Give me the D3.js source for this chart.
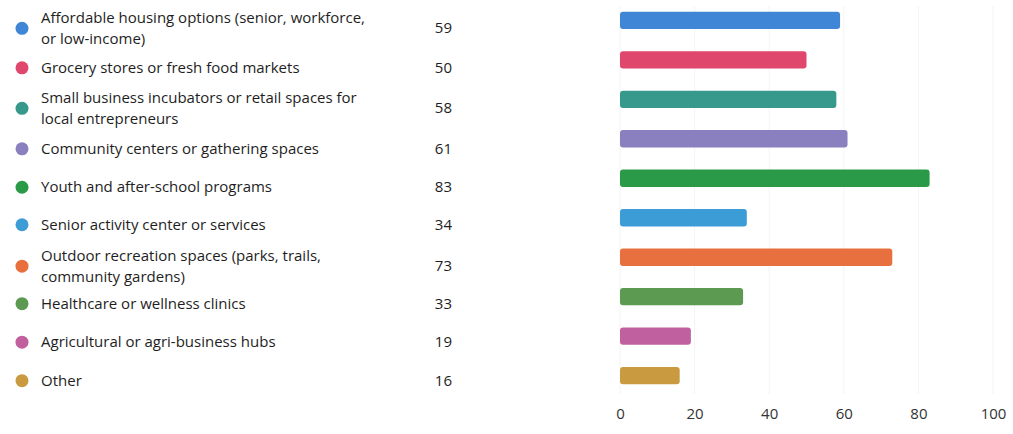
<!DOCTYPE html>
<html>
<head>
<meta charset="utf-8">
<script src="https://cdn.jsdelivr.net/npm/d3@7"></script>
<style>
  body { margin: 0; background: #fff; }
  text { font-family: "Open Sans", "Noto Sans", sans-serif; }
</style>
</head>
<body>
<div class="js-chart"></div>
<script>
'use strict';

// data
const categories = [
    ['Affordable housing options (senior, workforce,', 'or low-income)'],
    ['Grocery stores or fresh food markets'],
    ['Small business incubators or retail spaces for', 'local entrepreneurs'],
    ['Community centers or gathering spaces'],
    ['Youth and after-school programs'],
    ['Senior activity center or services'],
    ['Outdoor recreation spaces (parks, trails,', 'community gardens)'],
    ['Healthcare or wellness clinics'],
    ['Agricultural or agri-business hubs'],
    ['Other']
];
const counts = [59, 50, 58, 61, 83, 34, 73, 33, 19, 16];
const colors = ['#3f87d6', '#e0476c', '#36998b', '#8a80bf', '#2a9a48',
    '#3c9cd6', '#e8703f', '#5c9a52', '#c0609e', '#c99a3f'];
const xTicks = [0, 20, 40, 60, 80, 100];

const width = 1013;
const height = 434;

const svg = d3.select('.js-chart')
    .append('svg')
    .attr('width', width)
    .attr('height', height);

// scales
const x = d3.scaleLinear().domain([0, 100]).range([620, 993]);
const y = d3.scaleBand()
    .domain(d3.range(counts.length))
    .range([3, 393])
    .paddingInner(0.56)
    .paddingOuter(0.22);

// faint grid lines
svg.append('g')
    .selectAll('line')
    .data(xTicks)
    .enter()
    .append('line')
    .attr('x1', d => x(d))
    .attr('x2', d => x(d))
    .attr('y1', 6)
    .attr('y2', 394)
    .attr('stroke', '#f4f4f4')
    .attr('stroke-width', 1);

// bars
svg.append('g')
    .selectAll('rect')
    .data(counts)
    .enter()
    .append('rect')
    .attr('x', x(0))
    .attr('y', (d, i) => y(i))
    .attr('width', d => x(d) - x(0))
    .attr('height', y.bandwidth())
    .attr('rx', 3)
    .attr('fill', (d, i) => colors[i]);

// x axis
const xAxis = d3.axisBottom(x)
    .tickValues(xTicks)
    .tickSize(0)
    .tickPadding(0);

const xAxisGroup = svg.append('g')
    .attr('transform', 'translate(0, 408)')
    .call(xAxis);

xAxisGroup.select('.domain').remove();
xAxisGroup.selectAll('text')
    .attr('font-size', 15)
    .attr('fill', '#333')
    .attr('font-family', '"Open Sans", sans-serif');

// legend
const legendOffset = [8, 8, 9, 10, 9, 7, 9, 7, 6, 5];
const legend = svg.append('g')
    .selectAll('g')
    .data(categories)
    .enter()
    .append('g')
    .attr('transform', (d, i) => `translate(0, ${y(i) + y.bandwidth() / 2 + legendOffset[i]})`);

legend.append('circle')
    .attr('cx', 22)
    .attr('cy', 0)
    .attr('r', 6.5)
    .attr('fill', (d, i) => colors[i]);

legend.append('text')
    .attr('x', 41)
    .attr('font-size', 15)
    .attr('fill', '#1e1e1e')
    .each(function (d) {
        const t = d3.select(this);
        const start = d.length === 1 ? 5 : -5.5;
        d.forEach((line, j) => {
            t.append('tspan')
                .attr('x', 41)
                .attr('y', start + j * 21)
                .text(line);
        });
    });

legend.append('text')
    .attr('x', 452)
    .attr('y', 5)
    .attr('text-anchor', 'end')
    .attr('font-size', 15)
    .attr('fill', '#1e1e1e')
    .text((d, i) => counts[i]);
</script>
</body>
</html>
